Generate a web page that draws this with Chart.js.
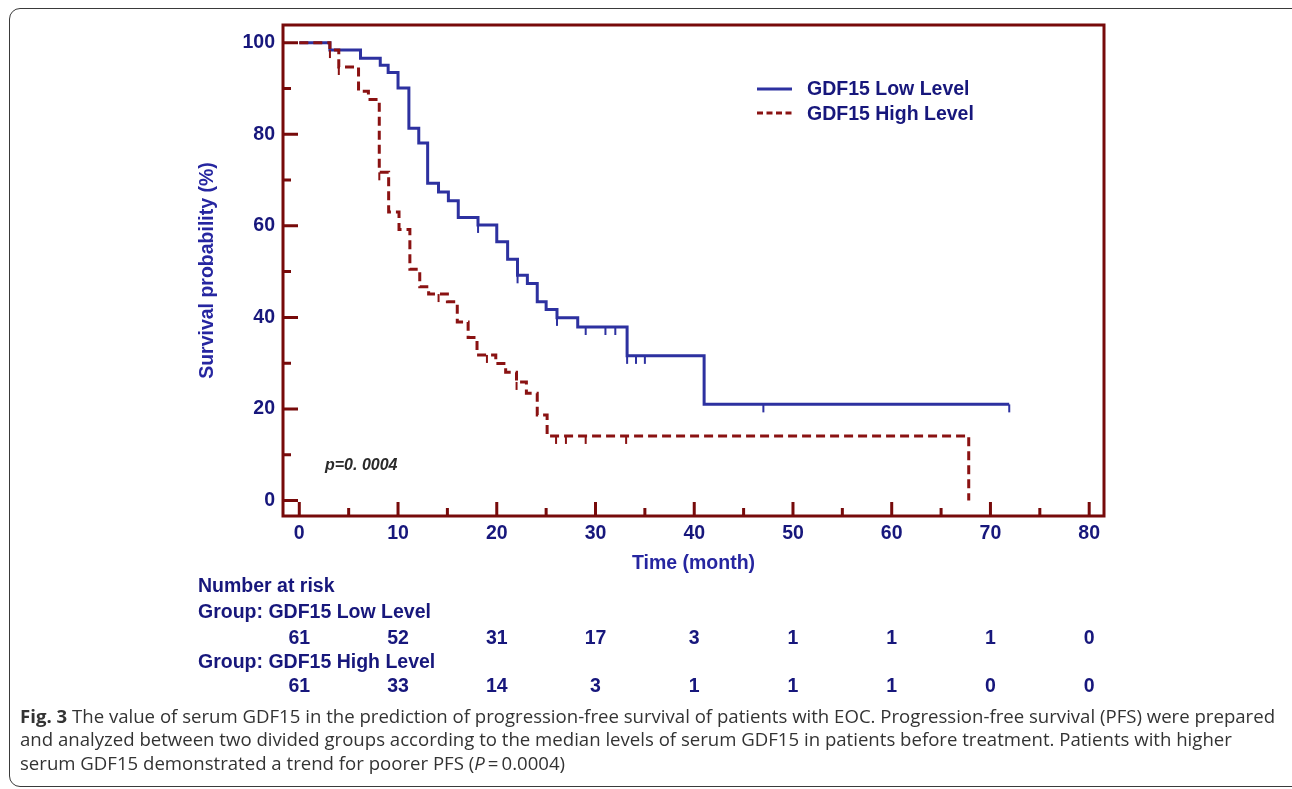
<!DOCTYPE html>
<html>
<head>
<meta charset="utf-8">
<script src="https://cdn.jsdelivr.net/npm/chart.js@4.4.0/dist/chart.umd.min.js"></script>
<style>
  html, body { margin: 0; padding: 0; background: #fff; }
  body { width: 1292px; height: 789px; position: relative; overflow: hidden; }
  #box { position: absolute; left: 9px; top: 8px; width: 1310px; height: 777px;
         border: 1px solid #3a3a3a; border-radius: 11px; }
  #kmChart { position: absolute; left: 0; top: 0; }
  #caption { position: absolute; left: 20px; top: 704px; width: 1270px; white-space: nowrap;
             font-family: "Open Sans", sans-serif; font-size: 18.6px; line-height: 23.3px; color: #333; }
  #caption b { font-weight: 700; }
</style>
</head>
<body>
<div id="box"></div>
<canvas id="kmChart" width="1292" height="789"></canvas>
<div id="caption"><b>Fig. 3</b> The value of serum GDF15 in the prediction of progression-free survival of patients with EOC. Progression-free survival (PFS) were prepared<br>and analyzed between two divided groups according to the median levels of serum GDF15 in patients before treatment. Patients with higher<br>serum GDF15 demonstrated a trend for poorer PFS (<i>P</i>&#8201;=&#8201;0.0004)</div>
<script>

// axis ticks
var xTicks = [0, 10, 20, 30, 40, 50, 60, 70, 80];
var yTicks = [0, 20, 40, 60, 80, 100];

// GDF15 low level: step points (month, survival %)
var lowTimes = [0, 3.1, 6.2, 8.2, 9.0, 10.0, 11.1, 12.1, 13.0, 14.1, 15.1, 16.1, 18.1, 20.0, 21.1, 22.1, 23.1, 24.1, 25.0, 26.1, 28.2, 33.2, 41.0, 71.9];
var lowSurv  = [100, 98.4, 96.6, 95.1, 93.5, 90.1, 81.3, 78.1, 69.3, 67.4, 65.5, 61.8, 60.2, 56.5, 52.7, 49.2, 47.4, 43.4, 41.7, 39.9, 37.9, 31.6, 21.0, 21.0];
var lowCensorTimes = [18.1, 22.1, 26.1, 29.0, 31.0, 32.0, 33.2, 34.1, 35.0, 47.0, 71.9];
var lowCensorSurv  = [60.2, 49.2, 39.9, 37.9, 37.9, 37.9, 31.6, 31.6, 31.6, 21.0, 21.0];

// GDF15 high level
var highTimes = [0, 3.1, 4.0, 6.0, 7.0, 8.1, 9.05, 10.1, 11.2, 12.2, 13.1, 15.0, 16.0, 17.1, 18.0, 19.9, 20.9, 22.0, 23.0, 24.1, 25.1, 67.8];
var highSurv  = [100, 98.4, 94.7, 89.4, 87.6, 71.7, 63.0, 59.2, 50.5, 46.7, 45.1, 43.4, 39.0, 35.6, 31.8, 29.9, 28.0, 25.9, 23.4, 18.7, 14.1, 0];
var highCensorTimes = [3.1, 4.0, 8.1, 14.1, 19.0, 22.0, 26.0, 27.0, 29.0, 33.1];
var highCensorSurv  = [98.4, 94.7, 71.7, 45.1, 31.8, 25.9, 14.1, 14.1, 14.1, 14.1];

// number at risk
var riskLow  = [61, 52, 31, 17, 3, 1, 1, 1, 0];
var riskHigh = [61, 33, 14, 3, 1, 1, 1, 0, 0];

var blue = '#2d31a0';
var red = '#8a1212';
var frameColor = '#770a0a';
var navy = '#17177c';
var titleBlue = '#2626a0';
var fontFamily = '"Liberation Sans", Arial, sans-serif';

function toPoints(xs, ys) {
  return xs.map(function (x, i) { return { x: x, y: ys[i] }; });
}

// little vertical tick hanging below the point, for censored cases
function censorMark(color) {
  var c = document.createElement('canvas');
  c.width = 4; c.height = 18;
  var g = c.getContext('2d');
  g.fillStyle = color;
  g.fillRect(1, 9, 2, 8);
  return c;
}

var framePlugin = {
  id: 'frame',
  afterDraw: function (chart) {
    var ctx = chart.ctx, a = chart.chartArea;
    var xs = chart.scales.x, ys = chart.scales.y;
    ctx.save();
    ctx.strokeStyle = frameColor;
    ctx.lineWidth = 3;
    ctx.strokeRect(a.left, a.top, a.right - a.left, a.bottom - a.top);

    // inward ticks, major on labels, minor halfway
    ctx.beginPath();
    xTicks.forEach(function (v, i) {
      var px = xs.getPixelForValue(v);
      ctx.moveTo(px, a.bottom); ctx.lineTo(px, a.bottom - 14);
      if (i < xTicks.length - 1) {
        var mx = xs.getPixelForValue((v + xTicks[i + 1]) / 2);
        ctx.moveTo(mx, a.bottom); ctx.lineTo(mx, a.bottom - 8);
      }
    });
    yTicks.forEach(function (v, i) {
      var py = ys.getPixelForValue(v);
      ctx.moveTo(a.left, py); ctx.lineTo(a.left + 15, py);
      if (i < yTicks.length - 1) {
        var my = ys.getPixelForValue((v + yTicks[i + 1]) / 2);
        ctx.moveTo(a.left, my); ctx.lineTo(a.left + 8, my);
      }
    });
    ctx.stroke();

    // legend
    var lx = 757;
    ctx.lineWidth = 3;
    ctx.strokeStyle = blue;
    ctx.beginPath(); ctx.moveTo(lx, 89); ctx.lineTo(lx + 35, 89); ctx.stroke();
    ctx.strokeStyle = red;
    ctx.setLineDash([6, 3.5]);
    ctx.beginPath(); ctx.moveTo(lx, 113); ctx.lineTo(lx + 35, 113); ctx.stroke();
    ctx.setLineDash([]);
    ctx.fillStyle = navy;
    ctx.font = 'bold 19.5px ' + fontFamily;
    ctx.textAlign = 'left';
    ctx.textBaseline = 'alphabetic';
    ctx.fillText('GDF15 Low Level', 807, 95);
    ctx.fillText('GDF15 High Level', 807, 119.5);

    // p value
    ctx.fillStyle = '#2a2a2a';
    ctx.font = 'italic bold 16px ' + fontFamily;
    ctx.fillText('p=0. 0004', 325, 470);

    // number at risk table
    ctx.fillStyle = navy;
    ctx.font = 'bold 19.5px ' + fontFamily;
    ctx.fillText('Number at risk', 198, 591.5);
    ctx.fillText('Group: GDF15 Low Level', 198, 618);
    ctx.fillText('Group: GDF15 High Level', 198, 668);
    ctx.textAlign = 'center';
    xTicks.forEach(function (v, i) {
      var px = xs.getPixelForValue(v);
      ctx.fillText(String(riskLow[i]), px, 643.5);
      ctx.fillText(String(riskHigh[i]), px, 692);
    });
    ctx.restore();
  }
};

new Chart(document.getElementById('kmChart').getContext('2d'), {
  type: 'scatter',
  data: {
    datasets: [{
      label: 'GDF15 High Level',
      data: toPoints(highTimes, highSurv),
      showLine: true,
      stepped: 'before',
      borderColor: red,
      borderWidth: 3,
      borderDash: [9, 5],
      borderCapStyle: 'butt',
      pointRadius: 0
    }, {
      label: 'GDF15 High Level censored',
      data: toPoints(highCensorTimes, highCensorSurv),
      showLine: false,
      pointStyle: censorMark(red),
      pointRadius: 3
    }, {
      label: 'GDF15 Low Level',
      data: toPoints(lowTimes, lowSurv),
      showLine: true,
      stepped: 'before',
      borderColor: blue,
      borderWidth: 3,
      pointRadius: 0
    }, {
      label: 'GDF15 Low Level censored',
      data: toPoints(lowCensorTimes, lowCensorSurv),
      showLine: false,
      pointStyle: censorMark(blue),
      pointRadius: 3
    }]
  },
  options: {
    responsive: false,
    animation: false,
    devicePixelRatio: 1,
    layout: { padding: { left: 186, top: 25, right: 188, bottom: 213 } },
    plugins: {
      legend: { display: false },
      tooltip: { enabled: false }
    },
    scales: {
      x: {
        type: 'linear',
        min: -1.65,
        max: 81.5,
        afterBuildTicks: function (scale) {
          scale.ticks = xTicks.map(function (v) { return { value: v }; });
        },
        afterFit: function (scale) { scale.height = 60; },
        grid: { display: false, drawTicks: false },
        border: { display: false },
        ticks: {
          color: navy,
          padding: 6,
          maxRotation: 0,
          font: { family: fontFamily, size: 19.5, weight: 'bold' }
        },
        title: {
          display: true,
          text: 'Time (month)',
          color: titleBlue,
          padding: { top: 0, bottom: 1 },
          font: { family: fontFamily, size: 19.5, weight: 'bold' }
        }
      },
      y: {
        min: -3.39,
        max: 103.87,
        afterBuildTicks: function (scale) {
          scale.ticks = yTicks.map(function (v) { return { value: v }; });
        },
        afterFit: function (scale) { scale.width = 97; },
        grid: { display: false, drawTicks: false },
        border: { display: false },
        ticks: {
          color: navy,
          padding: 8,
          font: { family: fontFamily, size: 19.5, weight: 'bold' }
        },
        title: {
          display: true,
          text: 'Survival probability (%)',
          color: titleBlue,
          padding: { top: 10, bottom: 0 },
          font: { family: fontFamily, size: 19.5, weight: 'bold' }
        }
      }
    }
  },
  plugins: [framePlugin]
});
</script>
</body>
</html>
